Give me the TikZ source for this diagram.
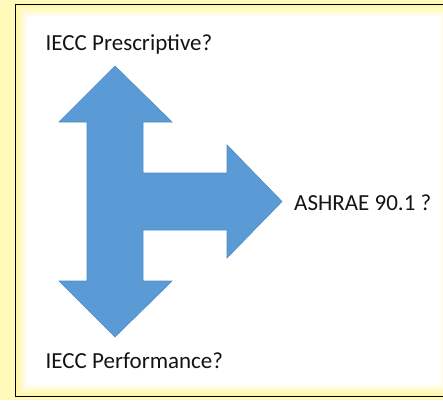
\documentclass[tikz,border=0pt]{standalone}
\usepackage{fontspec}
\setmainfont{Carlito}
\definecolor{bgyellow}{RGB}{255,250,185}
\definecolor{glowyellow}{RGB}{255,246,150}
\definecolor{arrowblue}{RGB}{91,155,213}
\definecolor{arrowedge}{RGB}{80,140,198}
\definecolor{textgray}{RGB}{20,20,20}
\tikzset{
  lbl/.style={anchor=base west, inner sep=0pt, text=textgray, font=\fontsize{23}{28}\selectfont},
  bigarrow/.style={fill=arrowblue, draw=arrowedge, line width=0.6pt, line join=miter}
}
\begin{document}
\begin{tikzpicture}[x=1pt,y=-1pt]
\useasboundingbox (0,0) rectangle (443,400);
\clip (0,0) rectangle (443,400);
\fill[bgyellow] (0,0) rectangle (443,400);
% inner white panel with yellow glow
\fill[white] (15.5,4.5) rectangle (452,396.5);
\foreach \i in {0,...,11}{
  \pgfmathsetmacro{\op}{0.85*(1-\i/12)}
  \draw[glowyellow, opacity=\op, line width=1pt]
    (16.5+\i,5.5+\i) rectangle (451-\i,395.5-\i);
}
\draw[black, line width=1.6pt] (15.5,4.5) rectangle (452,396.5);
% three-way arrow
\draw[bigarrow]
  (115,66) -- (172,122) -- (143,122) -- (143,173) -- (227,173) -- (227,145)
  -- (282,201.5) -- (227,258) -- (227,230) -- (143,230) -- (143,281)
  -- (172,281) -- (115,337) -- (59,281) -- (87,281) -- (87,122) -- (59,122) -- cycle;
\node[lbl] (presc) at (45.5,50) {IECC Prescriptive?};
\node[lbl] (perf) at (45.5,368) {IECC Performance?};
\node[lbl] (ashrae) at (294,210) {ASHRAE 90.1 ?};
\end{tikzpicture}
\end{document}
